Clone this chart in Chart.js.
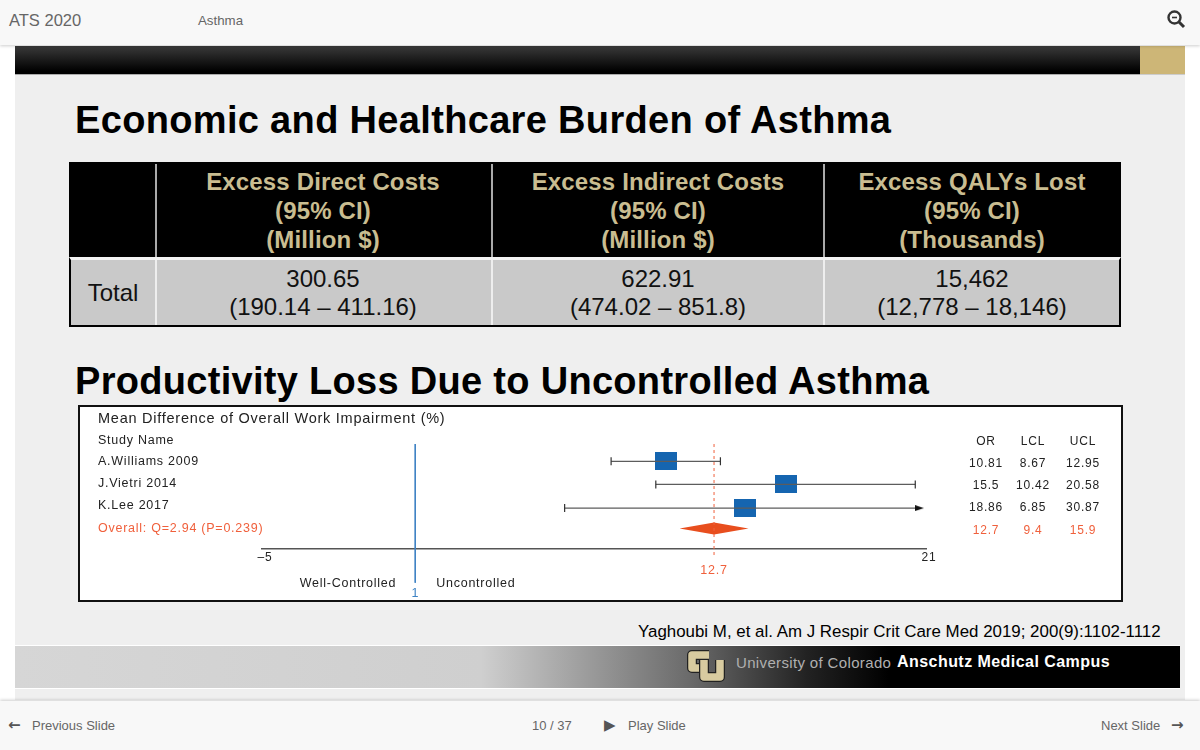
<!DOCTYPE html>
<html>
<head>
<meta charset="utf-8">
<title>Economic and Healthcare Burden of Asthma</title>
<script src="https://cdn.jsdelivr.net/npm/chart.js@4"></script>
<style>
  html, body { margin: 0; padding: 0; background: #fff; overflow: hidden; }
  body { width: 1200px; height: 750px; position: relative; font-family: "Liberation Sans", Arial, sans-serif; }
  .box { position: absolute; }
  .txt { position: absolute; white-space: nowrap; line-height: 1; }
  .mid { transform: translate(-50%, -50%); }
  .left { transform: translateY(-50%); }
  #slide { left: 15px; top: 46px; width: 1170px; height: 654px; background: #efefef; }
  #topbar { left: 0; top: 0; width: 1200px; height: 45px; background: #f8f8f8; box-shadow: 0 1px 3px rgba(0,0,0,.2); }
  #blackbar { left: 15px; top: 46px; width: 1125px; height: 28px; background: linear-gradient(#3a3a3a, #000 90%); border-bottom: 1px solid #aaa; }
  #tan { left: 1140px; top: 46px; width: 45px; height: 28px; background: #cdb677; border-bottom: 1px solid #ccc; }
  #tablehead { left: 69px; top: 162px; width: 1052px; height: 96px; background: #000; }
  #tablebody { left: 69px; top: 257px; width: 1048px; height: 65px; background: #c9c9c9; border: 2px solid #000; border-top: 3px solid #f4f4f4; box-sizing: content-box; }
  #plotbox { left: 78px; top: 405px; width: 1041px; height: 193px; background: #fff; border: 2px solid #111; }
  #footer { left: 15px; top: 645px; width: 1165px; height: 42px; background: linear-gradient(90deg, #d6d6d6 0, #cfcfcf 40%, #6a6a6a 58%, #222 68%, #000 75%); border-top: 1px solid #fff; border-bottom: 1px solid #fff; }
  #bottombar { left: 0; top: 701px; width: 1200px; height: 49px; background: #f8f8f8; box-shadow: 0 -1px 3px rgba(0,0,0,.2); }
  canvas { position: absolute; left: 80px; top: 407px; filter: blur(0.3px); }
</style>
</head>
<body>
<div class="box" id="slide"></div>
<div class="box" id="blackbar"></div>
<div class="box" id="tan"></div>
<div class="box" id="topbar"></div>
<div class="box" id="tablehead"></div>
<div class="box" id="tablebody"></div>
<div class="box" id="plotbox"></div>
<div class="box" id="footer"></div>
<div class="box" id="bottombar"></div>
<canvas id="forest" width="1040" height="193"></canvas>

<svg class="box" style="left:1166px;top:9px" width="20" height="20" viewBox="0 0 20 20">
  <circle cx="8.5" cy="8.5" r="6" fill="none" stroke="#333" stroke-width="2.4"/>
  <line x1="13" y1="13" x2="18" y2="18" stroke="#333" stroke-width="3"/>
  <line x1="6" y1="8.5" x2="11" y2="8.5" stroke="#333" stroke-width="1.6"/>
</svg>
<svg class="box" style="left:685px;top:648px" width="42" height="38" viewBox="0 0 42 38" fill="none" stroke-linejoin="round">
  <path d="M24 7H7V20H20" stroke="#222" stroke-width="10"/>
  <path d="M24 7H7V20H20" stroke="#d8cba0" stroke-width="7.5"/>
  <path d="M19 12V29H35V12" stroke="#222" stroke-width="10"/>
  <path d="M19 12V29H35V12" stroke="#d8cba0" stroke-width="7.5"/>
</svg>

<script>
// table at the top of the slide
const tableColumns = ['Excess Direct Costs', 'Excess Indirect Costs', 'Excess QALYs Lost'];
const tableUnits = ['(Million $)', '(Million $)', '(Thousands)'];
const tableValues = ['300.65', '622.91', '15,462'];
const tableRanges = ['(190.14 – 411.16)', '(474.02 – 851.8)', '(12,778 – 18,146)'];
const tableRowName = 'Total';

// forest plot
const studyNames = ['A.Williams 2009', 'J.Vietri 2014', 'K.Lee 2017'];
const overallLabel = 'Overall: Q=2.94 (P=0.239)';
const orText = ['10.81', '15.5', '18.86', '12.7'];
const lclText = ['8.67', '10.42', '6.85', '9.4'];
const uclText = ['12.95', '20.58', '30.87', '15.9'];
// where the marks sit on the drawn axis
const boxX = [10.81, 15.5, 13.9];
const ciLow = [8.67, 10.42, 6.85];
const ciHigh = [12.95, 20.58, 20.74];
const markRows = [0.95, 2.0, 3.08];
const diamondX = [11.35, 12.7, 14.05, 12.7];
const diamondY = [4.01, 3.74, 4.01, 4.28];
const labelRows = [0, 0.95, 1.95, 2.95, 4];
const axisTicks = [-5, 21];
const noEffect = 1;
const overallValue = 12.7;

const ORANGE = '#f0603c';
const BLUE = '#1565b0';
const TAN = '#c9bd91';

function addText(str, x, y, size, color, cls, extra) {
  const d = document.createElement('div');
  d.className = 'txt ' + cls;
  d.textContent = str;
  d.style.cssText = 'left:' + x + 'px;top:' + y + 'px;font-size:' + size + 'px;color:' + color + ';' + (extra || '');
  document.body.appendChild(d);
}

const ARROW = 'font-family:\'DejaVu Sans\';font-weight:bold;';
addText('ATS 2020', 9, 20, 16.5, '#666', 'left');
addText('Asthma', 198, 21, 13.3, '#666', 'left');
addText('Economic and Healthcare Burden of Asthma', 75, 120, 38, '#000', 'left', 'font-weight:bold;letter-spacing:0.33px;');
addText('Productivity Loss Due to Uncontrolled Asthma', 75, 381, 38, '#000', 'left', 'font-weight:bold;letter-spacing:0.3px;');
addText('Yaghoubi M, et al. Am J Respir Crit Care Med 2019; 200(9):1102-1112', 638, 632, 16.9, '#000', 'left');
addText('University of Colorado', 736, 662, 15, '#b0b0b0', 'left', 'letter-spacing:0.35px;');
addText('Anschutz Medical Campus', 897, 662, 16, '#fff', 'left', 'font-weight:bold;letter-spacing:0.45px;');
addText('←', 8, 725, 15, '#555', 'left', ARROW);
addText('Previous Slide', 32, 725, 13, '#666', 'left');
addText('10 / 37', 532, 725, 13, '#666', 'left');
addText('▶', 604, 725, 15, '#555', 'left', 'font-family:\'DejaVu Sans\';');
addText('Play Slide', 628, 725, 13, '#666', 'left');
addText('Next Slide', 1101, 725, 13, '#666', 'left');
addText('→', 1171, 725, 15, '#555', 'left', ARROW);

const colCentres = [323, 658, 972];
const colEdges = [155, 491, 823];
colEdges.forEach(function (x) {
  const head = document.createElement('div');
  head.className = 'box';
  head.style.cssText = 'left:' + x + 'px;top:164px;width:2px;height:93px;background:#aaa;';
  document.body.appendChild(head);
  const body = document.createElement('div');
  body.className = 'box';
  body.style.cssText = 'left:' + x + 'px;top:260px;width:2px;height:65px;background:#eee;';
  document.body.appendChild(body);
});
const HEAD = 'font-weight:bold;letter-spacing:0.15px;';
tableColumns.forEach(function (name, i) {
  addText(name, colCentres[i], 182, 24, TAN, 'mid', HEAD);
  addText('(95% CI)', colCentres[i], 211, 24, TAN, 'mid', HEAD);
  addText(tableUnits[i], colCentres[i], 240, 24, TAN, 'mid', HEAD);
  addText(tableValues[i], colCentres[i], 279, 24, '#111', 'mid');
  addText(tableRanges[i], colCentres[i], 307, 24, '#111', 'mid');
});
addText(tableRowName, 113, 293, 24, '#111', 'mid');

function boxImage(w, h, color) {
  const c = document.createElement('canvas');
  c.width = w;
  c.height = h;
  const g = c.getContext('2d');
  g.fillStyle = color;
  g.fillRect(0, 0, w, h);
  return c;
}

function arrowImage(w, h) {
  const c = document.createElement('canvas');
  c.width = w;
  c.height = h;
  const g = c.getContext('2d');
  g.fillStyle = '#111';
  g.beginPath();
  g.moveTo(0, 0);
  g.lineTo(w, h / 2);
  g.lineTo(0, h);
  g.fill();
  return c;
}

function ciDataset(i) {
  const y = markRows[i];
  const clipped = i === 2;
  return {
    data: [{ x: ciLow[i], y: y }, { x: ciHigh[i], y: y }],
    showLine: true,
    borderColor: '#5c5c5c',
    borderWidth: 1.4,
    pointStyle: ['line', clipped ? arrowImage(9, 6) : 'line'],
    pointRotation: [90, clipped ? 0 : 90],
    pointRadius: 4,
    pointBorderColor: '#333',
    pointBackgroundColor: '#111',
    pointBorderWidth: 1.2
  };
}

const datasets = [
  {
    // line of no effect runs down past the axis
    data: [{ x: noEffect, y: 0.16 }, { x: noEffect, y: 6.48 }],
    showLine: true, clip: false, pointRadius: 0, borderColor: '#3d82c4', borderWidth: 1
  },
  {
    data: [{ x: overallValue, y: 0.16 }, { x: overallValue, y: 5.35 }],
    showLine: true, clip: false, pointRadius: 0, borderColor: ORANGE, borderWidth: 1, borderDash: [3, 3]
  },
  ciDataset(0), ciDataset(1), ciDataset(2),
  {
    data: boxX.map(function (x, i) { return { x: x, y: markRows[i] }; }),
    showLine: false,
    pointStyle: boxImage(22, 18, BLUE)
  },
  {
    data: diamondX.map(function (x, i) { return { x: x, y: diamondY[i] }; }),
    showLine: true, fill: 'shape', tension: 0, pointRadius: 0,
    borderColor: '#e84e1e', borderWidth: 0, backgroundColor: '#e84e1e'
  }
];

// text that belongs to the plot but is not an axis label
const plotText = {
  id: 'plotText',
  beforeDraw(chart) {
    chart.ctx.letterSpacing = '0.75px';
  },
  afterDraw(chart) {
    const ctx = chart.ctx, xs = chart.scales.x, ys = chart.scales.y;
    ctx.save();
    ctx.textBaseline = 'middle';
    ctx.font = '14.5px "Liberation Sans"';
    ctx.fillStyle = '#222';
    ctx.textAlign = 'left';
    ctx.fillText('Mean Difference of Overall Work Impairment (%)', 18, 11.5);

    ctx.font = '12px "Liberation Sans"';
    ctx.textAlign = 'center';
    const cols = [906, 953, 1003];
    const tables = [orText, lclText, uclText];
    ['OR', 'LCL', 'UCL'].forEach(function (head, c) {
      ctx.fillStyle = '#222';
      ctx.fillText(head, cols[c], ys.getPixelForValue(labelRows[0]) + 1);
      tables[c].forEach(function (val, r) {
        ctx.fillStyle = r === 3 ? ORANGE : '#222';
        ctx.fillText(val, cols[c], ys.getPixelForValue(labelRows[r + 1]) + 2);
      });
    });

    ctx.font = '12.5px "Liberation Sans"';
    ctx.fillStyle = ORANGE;
    ctx.fillText(String(overallValue), xs.getPixelForValue(overallValue), 163.5);
    ctx.fillStyle = '#3d82c4';
    ctx.fillText(String(noEffect), xs.getPixelForValue(noEffect), 187);
    ctx.fillStyle = '#222';
    ctx.textAlign = 'right';
    ctx.fillText('Well-Controlled', xs.getPixelForValue(noEffect) - 19, 176.5);
    ctx.textAlign = 'left';
    ctx.fillText('Uncontrolled', xs.getPixelForValue(noEffect) + 21, 176.5);
    ctx.restore();
  }
};

new Chart(document.getElementById('forest'), {
  type: 'scatter',
  data: { datasets: datasets },
  plugins: [plotText],
  options: {
    responsive: false,
    animation: false,
    events: [],
    layout: { padding: { left: 18, right: 194, top: 33.5, bottom: 0 } },
    plugins: { legend: { display: false }, tooltip: { enabled: false } },
    scales: {
      x: {
        type: 'linear',
        min: -5,
        max: 21,
        grid: { display: false, drawTicks: false },
        border: { color: '#555', width: 1.5 },
        afterBuildTicks(scale) { scale.ticks = axisTicks.map(function (v) { return { value: v }; }); },
        afterFit(scale) { scale.height = 51.5; },
        ticks: {
          autoSkip: false, maxRotation: 0, padding: 2, labelOffset: 3, color: '#222',
          font: { family: 'Liberation Sans', size: 12 },
          callback(v) { return v < 0 ? '–' + Math.abs(v) : String(v); }
        }
      },
      y: {
        type: 'linear',
        reverse: true,
        min: 0,
        max: 4.92,
        grid: { display: false, drawTicks: false },
        border: { display: false },
        afterBuildTicks(scale) { scale.ticks = labelRows.map(function (v) { return { value: v }; }); },
        afterFit(scale) { scale.width = 164; },
        ticks: {
          autoSkip: false, crossAlign: 'far', padding: 0,
          font: { family: 'Liberation Sans', size: 12.5 },
          color(ctx) { return ctx.index === 4 ? ORANGE : '#222'; },
          callback(v, i) { return ['Study Name'].concat(studyNames, overallLabel)[i]; }
        }
      }
    }
  }
});
</script>
</body>
</html>
